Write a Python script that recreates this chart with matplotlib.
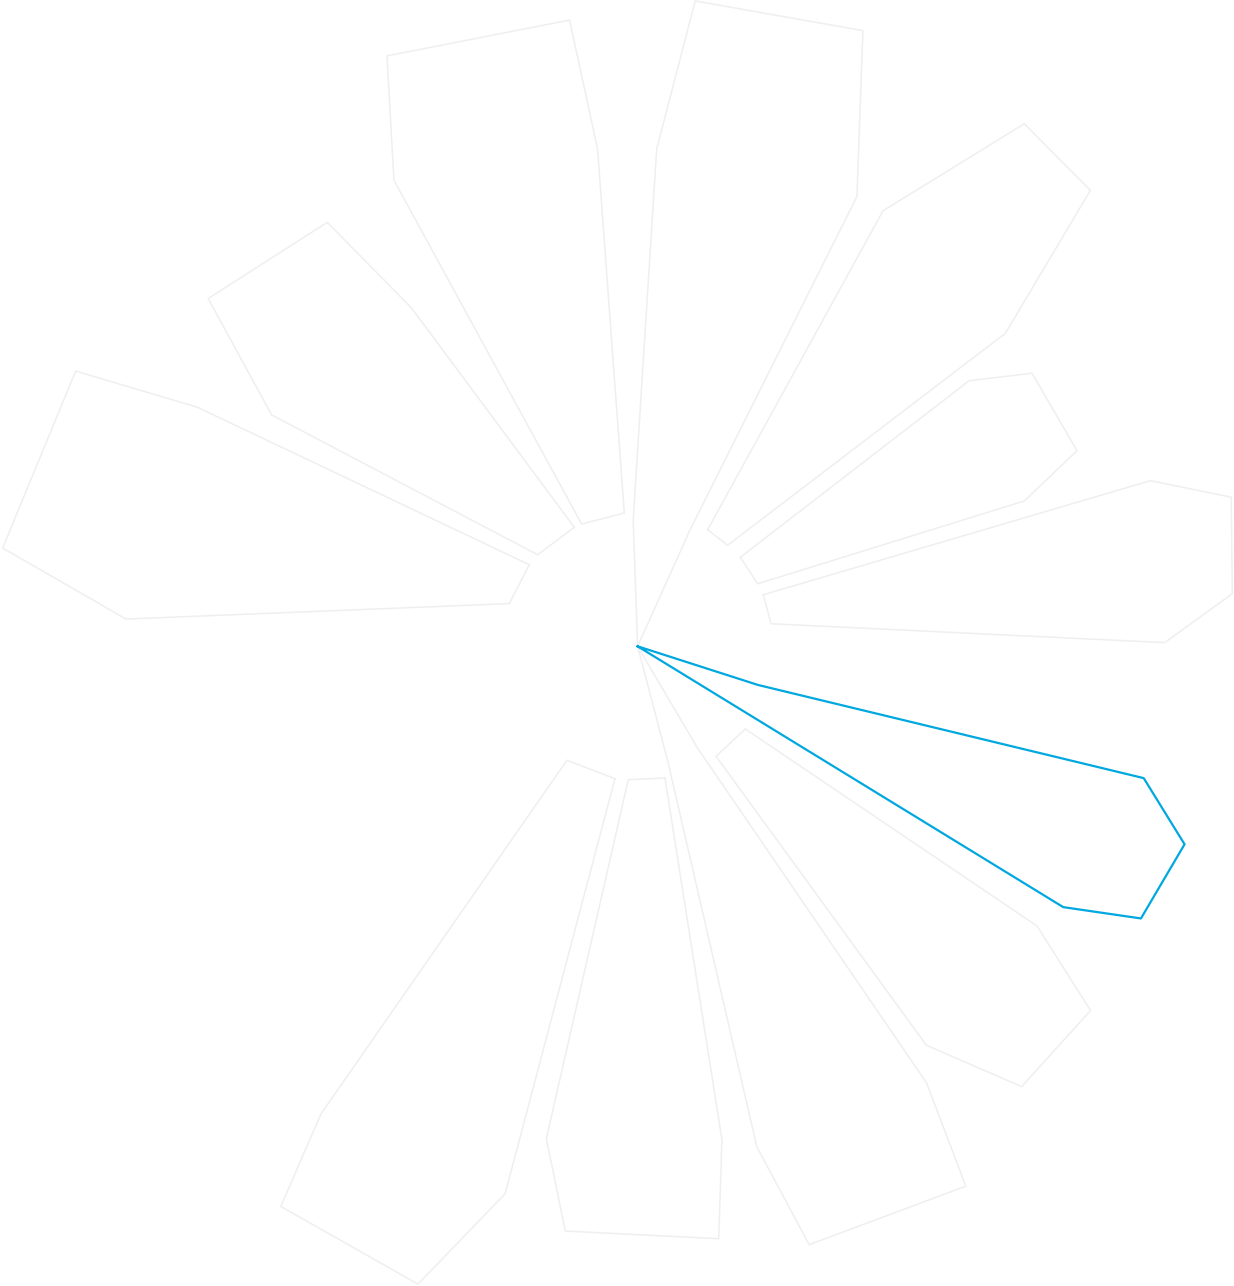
import numpy as np
import matplotlib
matplotlib.use("Agg")
import matplotlib.pyplot as plt

# petal outlines: angle (deg, ccw from east) and radius
angles = [
    [92.0, 92.0, 87.8, 84.9, 69.9, 64.0, 65.75],
    [95.7, 94.6, 96.2, 113.0, 117.6, 114.6],
    [118.0, 123.75, 126.2, 141.0, 147.7, 137.5],
    [143.0, 151.5, 153.9, 171.2, 176.95, 161.6],
    [59.0, 60.6, 53.5, 45.2, 40.4, 48.3],
    [40.9, 38.7, 34.7, 24.0, 20.6, 27.5],
    [22.3, 17.9, 14.1, 5.05, 0.4, 9.6],
    [-17.8, -17.8, -14.6, -19.9, -28.4, -31.5, -31.5],
    [-37.5, -35.0, -38.8, -48.9, -54.1, -54.5],
    [-59.5, -59.5, -56.5, -58.7, -74.0, -76.6, -75.3],
    [-78.25, -80.3, -82.2, -97.05, -100.5, -94.0],
    [-99.7, -103.6, -109.0, -122.5, -124.1, -121.8],
]
radii = [
    [0, 126.4, 497.7, 647.9, 655.6, 500.3, 127.6],
    [134.0, 498.9, 629.9, 641.4, 526.0, 134.5],
    [134.8, 406.9, 525.4, 552.6, 432.9, 135.5],
    [135.6, 501.2, 625.7, 642.5, 512.3, 135.2],
    [136.0, 499.8, 650.1, 642.6, 482.9, 135.3],
    [135.9, 424.7, 479.7, 481.0, 413.2, 135.4],
    [135.9, 538.9, 612.1, 597.0, 527.1, 135.3],
    [0, 126.5, 523.0, 581.7, 572.2, 499.2, 127.0],
    [135.8, 487.6, 581.2, 584.3, 492.5, 135.1],
    [0, 118.0, 523.5, 631.8, 622.5, 514.7, 120.0],
    [134.5, 500.5, 597.9, 589.2, 500.7, 133.7],
    [134.3, 563.2, 674.6, 664.1, 564.5, 134.1],
]
highlight = 7

rmax = 720
fig = plt.figure(figsize=(12.34, 12.86), dpi=100)
# square polar axes centred where the petals meet
ax = fig.add_axes([(637.6 - rmax) / 1234, (639.7 - rmax) / 1286,
                   2 * rmax / 1234, 2 * rmax / 1286], projection='polar')
ax.set_ylim(0, rmax)
ax.axis('off')

for i in range(len(angles)):
    th = np.radians(angles[i] + angles[i][:1])
    r = radii[i] + radii[i][:1]
    if i == highlight:
        continue
    ax.plot(th, r, color='#efefef', lw=1.1, clip_on=False)

th = np.radians(angles[highlight] + angles[highlight][:1])
r = radii[highlight] + radii[highlight][:1]
ax.plot(th, r, color='#00a8df', lw=1.6, clip_on=False)

fig.savefig('out.png', dpi=100, facecolor='white')
